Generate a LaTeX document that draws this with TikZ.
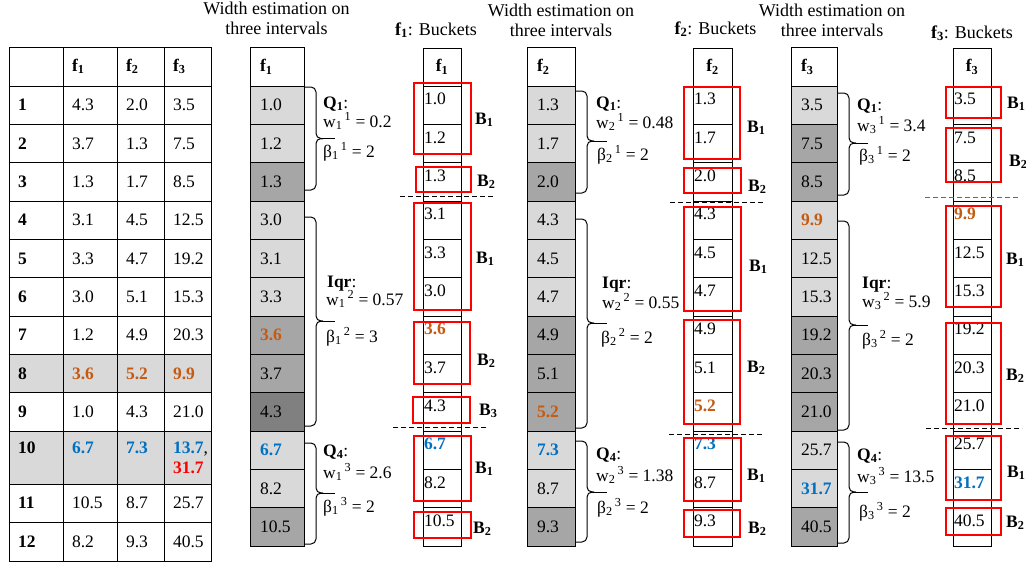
\documentclass[tikz,border=0pt]{standalone}
\usepackage{fontspec}
\setmainfont{Liberation Serif}
\definecolor{lg}{HTML}{D9D9D9}
\definecolor{mg}{HTML}{A6A6A6}
\definecolor{dg}{HTML}{808080}
\definecolor{orng}{HTML}{C55A11}
\definecolor{blu}{HTML}{0070C0}
\definecolor{redb}{HTML}{FF0000}
\newcommand\og[1]{\textcolor{orng}{\textbf{#1}}}
\newcommand\bl[1]{\textcolor{blu}{\textbf{#1}}}
\newcommand\rd[1]{\textcolor{redb}{\textbf{#1}}}
\newcommand\fs[1]{\textbf{f\textsubscript{#1}}}
\newcommand\bk[1]{\textbf{B\textsubscript{#1}}}
\newcommand\ws[2]{w\textsubscript{#1}\textsuperscript{\,#2}}
\newcommand\bs[2]{β\textsubscript{#1}\textsuperscript{\,#2}}
\newcommand\qbr[5]{%
  \draw[brc] (#1,#2) -- ({#1+12},#2) -- ({#1+12},#4) -- ({#1+19},#4);
  \draw[brc] ({#1+19},#4) -- ({#1+12},#4) -- ({#1+12},#3) -- (#1,#3);
  \draw[brc] ({#1+16},#4) -- (#5,#4);
}
\begin{document}
\begin{tikzpicture}[x=1pt,y=-1pt,
  every node/.style={font=\fontsize{17.5}{20}\selectfont, inner sep=0pt},
  tcell/.style n args={3}{draw, line width=0.9pt, inner xsep=9pt, inner ysep=0pt,
     text width=#1, minimum height=#2, fill=#3, align=left},
  scell/.style 2 args={draw, line width=0.9pt, inner xsep=10pt, inner ysep=0pt,
     text width=#1, minimum height=38.33pt, fill=#2, align=left},
  bcell/.style={draw, line width=0.9pt, inner xsep=1pt, inner ysep=0pt,
     text width=#1, minimum height=38.33pt, align=left, text depth=12pt},
  bhdr/.style={draw, line width=0.9pt, minimum width=#1, minimum height=38pt, align=center},
  lbl/.style={anchor=base west},
  blab/.style={anchor=base west},
  ttl/.style={anchor=base, font=\fontsize{18}{20}\selectfont},
  brc/.style={line width=1pt, rounded corners=5pt},
  rbox/.style={draw=redb, line width=1.2pt},
  dsh/.style={line width=0.9pt, dash pattern=on 5pt off 3pt}]
\fill[white] (0,0) rectangle (1026,565);
\useasboundingbox (0,0) rectangle (1026,565);

% ---------------- data table ----------------
\foreach \nm/\lab/\a/\b/\c/\yc/\h/\fl in {
  h/{}/{\fs1}/{\fs2}/{\fs3}/66.5/39/white,
  1/{\textbf{1}}/4.3/2.0/3.5/105.2/38.33/white,
  2/{\textbf{2}}/3.7/1.3/7.5/143.5/38.33/white,
  3/{\textbf{3}}/1.3/1.7/8.5/181.8/38.33/white,
  4/{\textbf{4}}/3.1/4.5/12.5/220.2/38.33/white,
  5/{\textbf{5}}/3.3/4.7/19.2/258.5/38.33/white,
  6/{\textbf{6}}/3.0/5.1/15.3/296.8/38.33/white,
  7/{\textbf{7}}/1.2/4.9/20.3/335.2/38.33/white,
  8/{\textbf{8}}/{\og{3.6}}/{\og{5.2}}/{\og{9.9}}/373.5/38.33/lg,
  9/{\textbf{9}}/1.0/4.3/21.0/411.8/38.33/white,
  10/{\textbf{10}\\\mbox{}}/{\bl{6.7}\\\mbox{}}/{\bl{7.3}\\\mbox{}}/{\bl{13.7},\\\rd{31.7}}/457.5/53/lg,
  11/{\textbf{11}}/10.5/8.7/25.7/503.2/38.5/white,
  12/{\textbf{12}}/8.2/9.3/40.5/541.8/38.5/white}{
  \node[tcell={36pt}{\h}{\fl}] (t\nm-0) at (36,\yc) {\lab};
  \node[tcell={36pt}{\h}{\fl}] (t\nm-1) at (90,\yc) {\a};
  \node[tcell={29pt}{\h}{\fl}] (t\nm-2) at (140.5,\yc) {\b};
  \node[tcell={29pt}{\h}{\fl}] (t\nm-3) at (187.5,\yc) {\c};
}

% ---------------- titles ----------------
\node[ttl] (h1a) at (276.5,14) {Width estimation on};
\node[ttl] (h1b) at (276.5,34) {three intervals};
\node[ttl] (h2a) at (561,16) {Width estimation on};
\node[ttl] (h2b) at (561,36) {three intervals};
\node[ttl] (h3a) at (832,16) {Width estimation on};
\node[ttl] (h3b) at (832,36) {three intervals};
\node[ttl] (bt1) at (436,35) {\fs1: Buckets};
\node[ttl] (bt2) at (715.5,34) {\fs2: Buckets};
\node[ttl] (bt3) at (972,38) {\fs3: Buckets};

% ---------------- sorted columns ----------------
\node[scell={34pt}{white}] (sa-h) at (277,67) {\fs1};
\foreach \v/\f [count=\k] in {1.0/lg,1.2/lg,1.3/mg,3.0/lg,3.1/lg,3.3/lg,{\og{3.6}}/mg,3.7/mg,4.3/dg,{\bl{6.7}}/lg,8.2/lg,10.5/mg}
  \node[scell={34pt}{\f}] (sa-\k) at (277,{86+38.333*(\k-0.5)}) {\v};

\node[scell={28pt}{white}] (sb-h) at (551,67) {\fs2};
\foreach \v/\f [count=\k] in {1.3/lg,1.7/lg,2.0/mg,4.3/lg,4.5/lg,4.7/lg,4.9/mg,5.1/mg,{\og{5.2}}/mg,{\bl{7.3}}/lg,8.7/lg,9.3/mg}
  \node[scell={28pt}{\f}] (sb-\k) at (551,{86+38.333*(\k-0.5)}) {\v};

\node[scell={26pt}{white}] (sc-h) at (814,67) {\fs3};
\foreach \v/\f [count=\k] in {3.5/lg,7.5/mg,8.5/mg,{\og{9.9}}/lg,12.5/lg,15.3/lg,19.2/mg,20.3/mg,21.0/mg,25.7/lg,{\bl{31.7}}/lg,40.5/mg}
  \node[scell={26pt}{\f}] (sc-\k) at (814,{86+38.333*(\k-0.5)}) {\v};

% ---------------- bucket columns ----------------
\node[bhdr=38pt] (ba-h) at (442,67) {\fs1};
\foreach \v [count=\k] in {1.0,1.2,1.3,3.1,3.3,3.0,{\og{3.6}},3.7,4.3,{\bl{6.7}},8.2,10.5}
  \node[bcell=36pt] (ba-\k) at (442,{86+38.333*(\k-0.5)}) {\v};

\node[bhdr=39pt] (bb-h) at (712.5,67) {\fs2};
\foreach \v [count=\k] in {1.3,1.7,2.0,4.3,4.5,4.7,4.9,5.1,{\og{5.2}},{\bl{7.3}},8.7,9.3}
  \node[bcell=37pt] (bb-\k) at (712.5,{86+38.333*(\k-0.5)}) {\v};

\node[bhdr=38pt] (bc-h) at (972,67) {\fs3};
\foreach \v [count=\k] in {3.5,7.5,8.5,{\og{9.9}},12.5,15.3,19.2,20.3,21.0,25.7,{\bl{31.7}},40.5}
  \node[bcell=36pt] (bc-\k) at (972,{86+38.333*(\k-0.5)}) {\v};

% ---------------- braces ----------------
\qbr{304}{87}{190}{138.5}{335}
\qbr{304}{217}{426}{321}{335}
\qbr{304}{443}{544}{493}{335}
\qbr{575}{91}{193}{141}{607}
\qbr{575}{219}{428}{323}{607}
\qbr{575}{441}{542}{492}{607}
\qbr{837}{93}{195}{143}{868}
\qbr{837}{221}{430}{325}{868}
\qbr{837}{442}{543}{492}{868}

% ---------------- interval labels ----------------
\node[lbl] (a1) at (323,108) {\textbf{Q\textsubscript{1}}:};
\node[lbl] (a2) at (323,127) {\ws{1}{1} = 0.2};
\node[lbl] (a3) at (323,157) {\bs{1}{1} = 2};
\node[lbl] (a4) at (327,287) {\textbf{Iqr}:};
\node[lbl] (a5) at (326,305) {\ws{1}{2} = 0.57};
\node[lbl] (a6) at (326,342) {\bs{1}{2} = 3};
\node[lbl] (a7) at (323,456) {\textbf{Q\textsubscript{4}}:};
\node[lbl] (a8) at (323,478) {\ws{1}{3} = 2.6};
\node[lbl] (a9) at (323,512) {\bs{1}{3} = 2};

\node[lbl] (b1) at (596,108) {\textbf{Q\textsubscript{1}}:};
\node[lbl] (b2) at (596,128) {\ws{2}{1} = 0.48};
\node[lbl] (b3) at (597,160) {\bs{2}{1} = 2};
\node[lbl] (b4) at (602,288) {\textbf{Iqr}:};
\node[lbl] (b5) at (602,308) {\ws{2}{2} = 0.55};
\node[lbl] (b6) at (601,343) {\bs{2}{2} = 2};
\node[lbl] (b7) at (596,459) {\textbf{Q\textsubscript{4}}:};
\node[lbl] (b8) at (596,481) {\ws{2}{3} = 1.38};
\node[lbl] (b9) at (597,513) {\bs{2}{3} = 2};

\node[lbl] (c1) at (857,110) {\textbf{Q\textsubscript{1}}:};
\node[lbl] (c2) at (857,131) {\ws{3}{1} = 3.4};
\node[lbl] (c3) at (859,161) {\bs{3}{1} = 2};
\node[lbl] (c4) at (862,288) {\textbf{Iqr}:};
\node[lbl] (c5) at (862,307) {\ws{3}{2} = 5.9};
\node[lbl] (c6) at (862,345) {\bs{3}{2} = 2};
\node[lbl] (c7) at (857,460) {\textbf{Q\textsubscript{4}}:};
\node[lbl] (c8) at (857,482) {\ws{3}{3} = 13.5};
\node[lbl] (c9) at (859,517) {\bs{3}{3} = 2};

% ---------------- red bucket boxes ----------------
\draw[rbox] (414,83) rectangle (471,154);
\draw[rbox] (416,167) rectangle (471,192);
\draw[rbox] (414,203) rectangle (471,310);
\draw[rbox] (414,322) rectangle (470,384);
\draw[rbox] (413,397) rectangle (470,423);
\draw[rbox] (414,436) rectangle (471,501);
\draw[rbox] (414,512) rectangle (471,538);

\draw[rbox] (684,87) rectangle (740,159);
\draw[rbox] (684,168) rectangle (741,193);
\draw[rbox] (684,207) rectangle (741,311);
\draw[rbox] (684,320) rectangle (740,424);
\draw[rbox] (684,438) rectangle (741,501);
\draw[rbox] (684,510) rectangle (740,537);

\draw[rbox] (946,87) rectangle (1001,118);
\draw[rbox] (946,128) rectangle (1001,182);
\draw[rbox] (946,206) rectangle (1001,307);
\draw[rbox] (946,323) rectangle (1001,424);
\draw[rbox] (946,436) rectangle (1001,500);
\draw[rbox] (946,508) rectangle (1001,535);

% ---------------- dashed separators ----------------
\draw[dsh] (400,196) -- (495,196);
\draw[dsh] (393,427) -- (488,427);
\draw[dsh] (670,202) -- (765,202);
\draw[dsh] (669,434) -- (764,434);
\draw[dsh, draw=black!60] (925,197) -- (1020,197);
\draw[dsh] (926,428) -- (1022,428);

% ---------------- bucket labels ----------------
\node[blab] (la1) at (475,124) {\bk1};
\node[blab] (la2) at (477,186) {\bk2};
\node[blab] (la3) at (476,263) {\bk1};
\node[blab] (la4) at (477,365) {\bk2};
\node[blab] (la5) at (479,415) {\bk3};
\node[blab] (la6) at (475,473) {\bk1};
\node[blab] (la7) at (473,533) {\bk2};

\node[blab] (lb1) at (747,132) {\bk1};
\node[blab] (lb2) at (748,191) {\bk2};
\node[blab] (lb3) at (749,271) {\bk1};
\node[blab] (lb4) at (747,372) {\bk2};
\node[blab] (lb5) at (747,480) {\bk1};
\node[blab] (lb6) at (748,533) {\bk2};

\node[blab] (lc1) at (1007,108) {\bk1};
\node[blab] (lc2) at (1009,166) {\bk2};
\node[blab] (lc3) at (1006,264) {\bk1};
\node[blab] (lc4) at (1006,380) {\bk2};
\node[blab] (lc5) at (1007,477) {\bk1};
\node[blab] (lc6) at (1006,527) {\bk2};
\end{tikzpicture}
\end{document}
